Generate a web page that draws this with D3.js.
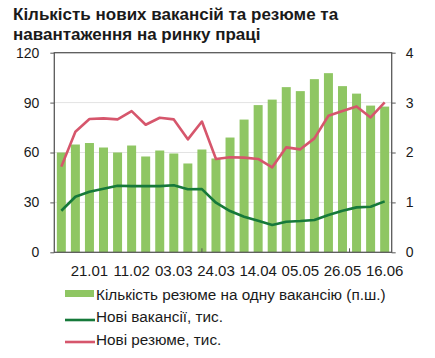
<!DOCTYPE html>
<html><head><meta charset="utf-8">
<script src="https://cdn.jsdelivr.net/npm/d3@7"></script>
<style>
body{margin:0;background:#fff;}
svg{display:block;font-family:"Liberation Sans",Arial,sans-serif;}
</style></head>
<body>
<svg id="chart" width="435" height="358"></svg>
<script>
const dates = ["07.01","14.01","21.01","28.01","04.02","11.02","18.02","25.02","03.03","10.03","17.03","24.03","31.03","07.04","14.04","21.04","28.04","05.05","12.05","19.05","26.05","02.06","09.06","16.06"];
const tickLabels = ["21.01","11.02","03.03","24.03","14.04","05.05","26.05","16.06"];
const ratio = [2.00,2.16,2.19,2.10,2.00,2.14,1.92,2.04,1.98,1.78,2.06,1.88,2.30,2.66,2.95,3.06,3.31,3.23,3.47,3.59,3.33,3.18,2.94,2.92];
const vacancies = [25.0,33.4,36.4,38.2,40.0,39.8,39.8,39.8,40.3,37.9,38.0,29.8,24.8,21.4,19.0,16.4,18.4,18.8,19.4,22.4,25.0,27.0,27.4,30.6];
const resumes = [51.5,72.5,80.1,80.5,79.9,84.9,76.7,80.9,79.9,67.9,78.6,56.1,57.1,56.9,56.1,51.1,63.1,61.9,68.5,82.1,84.9,87.7,81.1,90.1];
const leftTicks = [0,30,60,90,120];
const rightTicks = [0,1,2,3,4];
const title = ["Кількість нових вакансій та резюме та","навантаження на ринку праці"];
const legendLabels = ["Кількість резюме на одну вакансію (п.ш.)","Нові вакансії, тис.","Нові резюме, тис."];

const C = {bar:"#8fc663", green:"#16793a", red:"#d6566c", axis:"#595959", grid:"#e3e3e3", text:"#1a1a1a"};
const L = 54.3, R = 391.7, T = 52.7, B = 252.3;
const svg = d3.select("#chart");

const x = d3.scaleBand().domain(dates).range([L,R]).paddingInner(0.36).paddingOuter(0.18);
const yL = d3.scaleLinear().domain([0,120]).range([B,T]);
const yR = d3.scaleLinear().domain([0,4]).range([B,T]);
const cx = d => x(d) + x.bandwidth()/2;

// title
svg.append("g").selectAll("text").data(title).join("text")
  .attr("x",13).attr("y",(d,i)=>20+i*20)
  .attr("font-size",17).attr("font-weight","bold").attr("fill",C.text).text(d=>d);

// gridlines
svg.append("g").selectAll("line").data(leftTicks.filter(v=>v>0&&v<120)).join("line")
  .attr("x1",L).attr("x2",R).attr("y1",d=>yL(d)).attr("y2",d=>yL(d))
  .attr("stroke",C.grid).attr("stroke-width",1);

// bars
svg.append("g").selectAll("rect").data(ratio).join("rect")
  .attr("x",(d,i)=>x(dates[i])).attr("width",x.bandwidth())
  .attr("y",d=>yR(d)).attr("height",d=>B-yR(d)).attr("fill",C.bar);

// lines
const line = arr => d3.line().x((d,i)=>cx(dates[i])).y(d=>yL(d))(arr);
svg.append("path").attr("d",line(vacancies)).attr("fill","none").attr("stroke",C.green).attr("stroke-width",2.6).attr("stroke-linejoin","round");
svg.append("path").attr("d",line(resumes)).attr("fill","none").attr("stroke",C.red).attr("stroke-width",2.6).attr("stroke-linejoin","round");

// frame
svg.append("rect").attr("x",L).attr("y",T).attr("width",R-L).attr("height",B-T)
  .attr("fill","none").attr("stroke",C.axis).attr("stroke-width",1.3);

// left axis
const axL = svg.append("g").attr("transform",`translate(${L},0)`)
  .call(d3.axisLeft(yL).tickValues(leftTicks).tickFormat(d3.format("d")).tickSize(4).tickPadding(11));
axL.select(".domain").remove();
axL.selectAll("line").attr("stroke",C.axis);
axL.selectAll("text").attr("font-size",14).attr("fill",C.text).attr("font-family","Liberation Sans, Arial, sans-serif");

// right axis
const axR = svg.append("g").attr("transform",`translate(${R},0)`)
  .call(d3.axisRight(yR).tickValues(rightTicks).tickFormat(d3.format("d")).tickSize(4).tickPadding(10));
axR.select(".domain").remove();
axR.selectAll("line").attr("stroke",C.axis);
axR.selectAll("text").attr("font-size",14).attr("fill",C.text).attr("font-family","Liberation Sans, Arial, sans-serif");

// x axis tick marks (inside)
const tickPos = [10.5, 21].map(k => L + x.step()*k);
svg.append("g").selectAll("line").data(tickPos).join("line")
  .attr("x1",d=>d).attr("x2",d=>d).attr("y1",B).attr("y2",B-4)
  .attr("stroke",C.axis).attr("stroke-width",1);

// x axis labels
const axX = svg.append("g").attr("transform",`translate(0,${B})`)
  .call(d3.axisBottom(x).tickValues(dates.filter(d=>tickLabels.includes(d))).tickFormat(d=>d).tickSize(0).tickPadding(13));
axX.select(".domain").remove();
axX.selectAll("text").attr("font-size",15).attr("fill",C.text).attr("font-family","Liberation Sans, Arial, sans-serif");

// legend
const lg = svg.append("g");
lg.append("rect").attr("x",65).attr("y",290).attr("width",29).attr("height",7).attr("fill",C.bar);
lg.append("line").attr("x1",65).attr("x2",95).attr("y1",320).attr("y2",320).attr("stroke",C.green).attr("stroke-width",2.6);
lg.append("line").attr("x1",65).attr("x2",95).attr("y1",342).attr("y2",342).attr("stroke",C.red).attr("stroke-width",2.6);
lg.selectAll("text").data(legendLabels).join("text")
  .attr("x",96).attr("y",(d,i)=>299.5+i*22.5).attr("font-size",15.3).attr("fill",C.text).text(d=>d);
</script>
</body></html>
